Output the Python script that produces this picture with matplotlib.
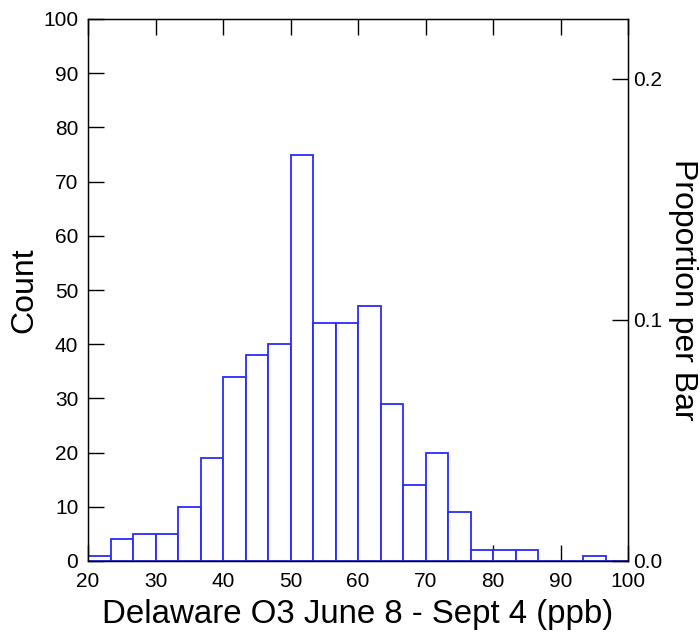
import numpy as np
import matplotlib
matplotlib.use("Agg")
import matplotlib.pyplot as plt

plt.rcParams['font.family'] = ['Liberation Sans', 'DejaVu Sans']

bordes = np.linspace(20, 100, 25)
conteos = [1, 4, 5, 5, 10, 19, 34, 38, 40, 75, 44, 44, 47, 29, 14, 20, 9, 2, 2, 2, 0, 0, 1, 0]
ticks_x = [20, 30, 40, 50, 60, 70, 80, 90, 100]
ticks_y = list(range(0, 101, 10))
ticks_prop = [0.0, 0.1, 0.2]
etiquetas_prop = ["0.0", "0.1", "0.2"]

total = sum(conteos)
azul = '#2a2aff'

fig = plt.figure(figsize=(7.0, 6.38), dpi=100)
ax = fig.add_axes([88 / 700, 77 / 638, 540 / 700, 542 / 638])

ax.bar(bordes[:-1], conteos, width=np.diff(bordes), align='edge',
       facecolor='white', edgecolor=azul, linewidth=1.3, zorder=1)
ax.set_axisbelow(True)

ax.set_xlim(20, 100)
ax.set_ylim(0, 100)
ax.set_xticks(ticks_x)
ax.set_yticks(ticks_y)
ax.tick_params(direction='in', length=11.5, width=1, labelsize=15,
               top=True, right=False)
ax.tick_params(axis='x', pad=8)
ax.tick_params(axis='y', pad=7)
for lado in ax.spines.values():
    lado.set_linewidth(1)

ax.set_xlabel("Delaware O3 June 8 - Sept 4 (ppb)", fontsize=23.8, labelpad=6)
ax.set_ylabel("Count", fontsize=23, labelpad=3)

# eje derecho con la proporcion por barra
ax2 = ax.twinx()
ax2.set_ylim(0, 100 / total)
ax2.set_yticks(ticks_prop)
ax2.set_yticklabels(etiquetas_prop)
ax2.tick_params(direction='in', length=11.5, width=1, labelsize=15, pad=4)
ax2.set_ylabel("Proportion per Bar", fontsize=23, rotation=270, labelpad=25)

fig.savefig("out.png", dpi=100)
